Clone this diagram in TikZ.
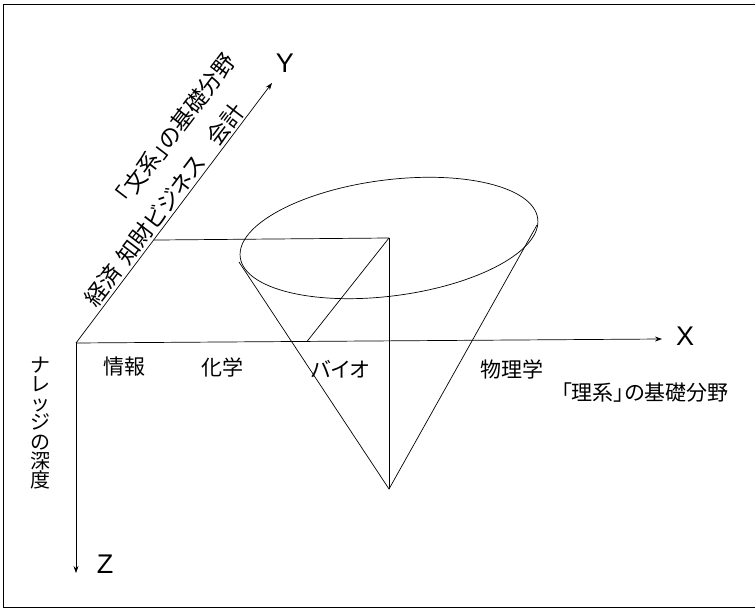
\documentclass[tikz,border=0pt]{standalone}
\usepackage{fontspec}
\newfontfamily\jp[RawFeature=+palt]{Noto Sans CJK JP}
\newfontfamily\jpv{Noto Sans CJK JP}
\newfontfamily\lat{Liberation Sans}
\usetikzlibrary{arrows.meta,calc}
\begin{document}
\begin{tikzpicture}[x=1pt,y=-1pt,line width=0.7pt,
  ax/.style={-{Stealth[length=7pt,width=5pt]}},
  jl/.style={font=\jp\fontsize{21}{25}\selectfont,inner sep=0pt},
  jd/.style={font=\jp\fontsize{22.5}{25}\selectfont,inner sep=0pt,rotate=52.7},
  al/.style={font=\lat\fontsize{27}{30}\selectfont,inner sep=0pt}]
\useasboundingbox (0,0) rectangle (755,609);
% frame
\draw[line width=1pt] (755,5) -- (3,5) -- (3,607) -- (755,607);
% coordinates
\coordinate (O) at (76,343);
\coordinate (Xe) at (662,339);
\coordinate (Ye) at (272,83);
\coordinate (Ze) at (76,573);
\coordinate (Yp) at ($(O)!0.396!(Ye)$);
\coordinate (C) at (389,238);
\coordinate (A) at (389,489);
\coordinate (Xp) at (307,341.5);
\coordinate (L) at (239,262);
\coordinate (R) at (537,225);
% axes
\draw[ax] (O) -- (Xe);
\draw[ax] (O) -- (Ye);
\draw[ax] (O) -- (Ze);
% construction lines
\draw (Yp) -- (C);
\draw (C) -- (Xp);
\draw (C) -- (A);
% cone
\draw[rotate around={7.43:(C)}] (C) ellipse[x radius=150, y radius=58];
\draw (L) -- (A) -- (R);
% axis labels
\node[al] (xl) at (685,336) {X};
\node[al] (yl) at (285,63) {Y};
\node[al] (zl) at (105,564) {Z};
% x labels
\node[jl] (t1) at (124,367) {情報};
\node[jl] (t2) at (222,367) {化学};
\node[jl] (t3) at (340,369) {バイオ};
\node[jl] (t4) at (512,369) {物理学};
\node[jl] (t5) at (645,393) {「理系」の基礎分野};
% y labels
\node[jd] (t6) at (164.5,205) {経済\hspace{0.35em}知財ビジネス\hspace{0.9em}会計};
\node[jd] (t7) at (176,128) {「文系」の基礎分野};
% z label
\node[inner sep=0pt,font=\jpv\fontsize{20}{19.3}\selectfont,align=center] (t8) at (40,423)
  {ナ\\レ\\ッ\\ジ\\の\\深\\度};
\end{tikzpicture}
\end{document}
